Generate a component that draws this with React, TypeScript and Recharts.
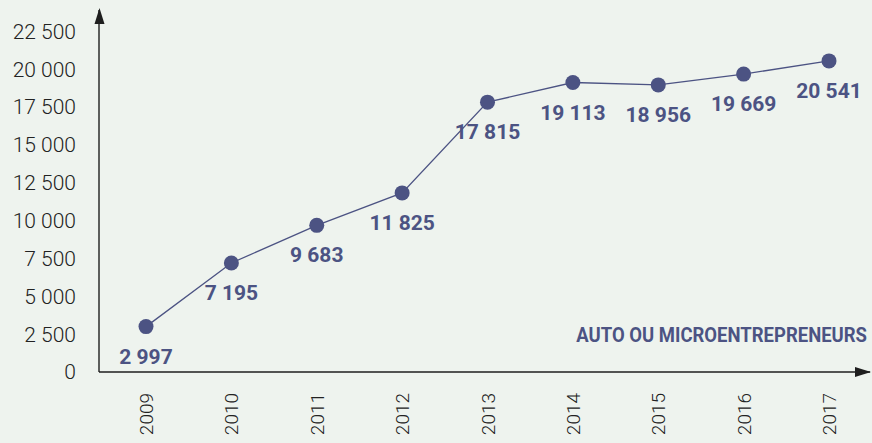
import { LineChart, Line, XAxis, YAxis, LabelList } from 'recharts'

const years = ['2009', '2010', '2011', '2012', '2013', '2014', '2015', '2016', '2017']
const entrepreneurs = [2997, 7195, 9683, 11825, 17815, 19113, 18956, 19669, 20541]
const yTicks = [0, 2500, 5000, 7500, 10000, 12500, 15000, 17500, 20000, 22500]
const seriesName = 'AUTO OU MICROENTREPRENEURS'

const BG = '#eef3ee'
const NAVY = '#4c5383'
const AXIS = '#1e1e1e'

const fmt = (v: number) => String(v).replace(/\B(?=(\d{3})+(?!\d))/g, ' ')

const data = years.map((year, i) => ({ year, value: entrepreneurs[i] }))

function YearTick(props: any) {
  const { x, y, payload } = props
  return (
    <text
      transform={`translate(${x + 7}, ${y + 13}) rotate(-90)`}
      textAnchor="end"
      fontFamily="Roboto"
      fontWeight={300}
      fontSize={19}
      fill="#222"
    >
      {payload.value}
    </text>
  )
}

function ValueLabel(props: any) {
  const { x, y, value } = props
  return (
    <text x={x} y={y + 37} textAnchor="middle" fontFamily="Roboto" fontWeight={700} fontSize={21} fill={NAVY}>
      {fmt(value)}
    </text>
  )
}

export default function App() {
  return (
    <div style={{ position: 'fixed', left: 0, top: 0, width: 872, height: 443, background: BG }}>
      <LineChart width={872} height={443} data={data} margin={{ top: 10, right: 2, bottom: 0, left: 0 }}>
        <XAxis
          dataKey="year"
          padding={{ left: 47, right: 41 }}
          height={71}
          axisLine={{ stroke: AXIS, strokeWidth: 1.4 }}
          tickLine={false}
          tick={<YearTick />}
          interval={0}
        />
        <YAxis
          width={99}
          domain={[0, 23900]}
          ticks={yTicks}
          allowDataOverflow
          axisLine={{ stroke: AXIS, strokeWidth: 1.4 }}
          tickLine={false}
          tickSize={0}
          tickMargin={23}
          tickFormatter={fmt}
          tick={{ fontFamily: 'Roboto', fontWeight: 300, fontSize: 21, fill: '#222', dy: 0 }}
        />
        <Line
          dataKey="value"
          stroke={NAVY}
          strokeWidth={1.3}
          dot={{ r: 7.5, fill: NAVY, stroke: NAVY, strokeWidth: 0 }}
          isAnimationActive={false}
        >
          <LabelList dataKey="value" content={<ValueLabel />} />
        </Line>
      </LineChart>
      <svg width={872} height={443} style={{ position: 'absolute', left: 0, top: 0, pointerEvents: 'none' }}>
        <polygon points="99.5,8 94.5,24 104.5,24" fill={AXIS} />
        <polygon points="871,372 855,367 855,377" fill={AXIS} />
        <text
          transform="translate(867, 342) scale(0.925, 1)"
          textAnchor="end"
          fontFamily="Roboto"
          fontWeight={700}
          fontSize={20}
          fill={NAVY}
        >
          {seriesName}
        </text>
      </svg>
    </div>
  )
}
